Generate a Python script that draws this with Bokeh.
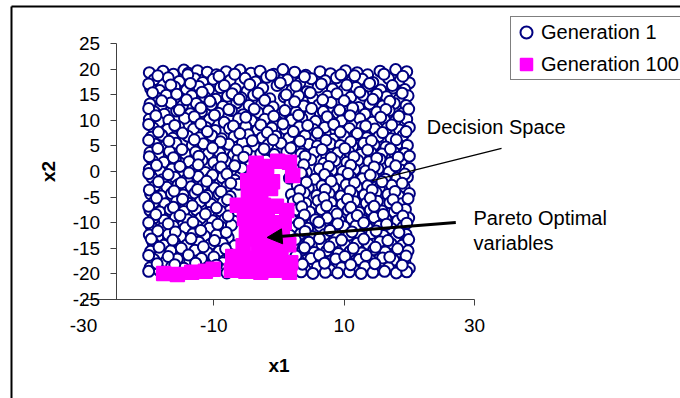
from bokeh.plotting import figure
from bokeh.models import (Range1d, FixedTicker, Legend, LegendItem, Label, Arrow,
                          NormalHead, LinearAxis, PrintfTickFormatter)
from bokeh.embed import file_html
from bokeh.resources import INLINE

# Generation 1: initial population spread over the decision space
gen1_x = [
    -19.9, -17.8, -16.2, -14.6, -13.9, -12.5, -11.0, -9.6, -8.1, -6.0, -4.3, -2.9, -0.8, 0.6, 2.4, 4.1, 6.3, 7.9, 10.2, 12.0, 13.6, 15.5, 17.9, 19.6,
    -19.2, -17.0, -15.3, -12.9, -11.7, -10.1, -7.5, -5.2, -3.6, -1.9, 1.3, 3.2, 5.0, 7.1, 8.8, 11.1, 12.8, 14.4, 16.8, 18.6, 20.0,
    -19.7, -18.3, -16.0, -14.2, -12.3, -10.8, -9.0, -6.7, -4.9, -2.5, -0.3, 2.0, 4.3, 6.0, 8.2, 9.9, 11.8, 13.7, 15.6, 17.5, 19.3,
    -18.9, -17.3, -15.1, -13.4, -11.4, -9.7, -7.9, -5.8, -3.9, -1.4, 0.8, 3.0, 5.2, 7.4, 9.3, 11.0, 12.9, 14.8, 16.5, 18.4, 19.8,
    -19.8, -18.1, -16.6, -14.8, -12.7, -10.4, -8.6, -6.5, -4.6, -2.7, -0.9, 1.7, 3.8, 6.1, 8.0, 10.5, 12.2, 13.9, 15.9, 17.7, 19.5,
    -19.1, -17.6, -15.7, -13.6, -11.9, -9.3, -7.3, -5.5, -3.2, -1.6, 0.4, 2.6, 4.7, 6.8, 9.0, 11.4, 13.2, 15.0, 16.9, 18.9,
    -19.9, -18.4, -16.9, -14.5, -12.6, -10.7, -8.4, -6.2, -4.2, -2.2, -0.2, 1.9, 3.5, 5.6, 7.7, 9.6, 12.4, 14.3, 16.2, 17.8, 19.6,
    -19.3, -17.1, -15.4, -13.1, -11.2, -9.8, -7.6, -5.1, -3.3, -1.1, 1.0, 3.1, 5.3, 7.0, 8.7, 10.8, 12.7, 14.7, 16.6, 18.5, 20.0,
    -19.6, -18.0, -16.3, -14.0, -12.2, -10.3, -8.8, -6.9, -4.7, -2.6, -0.5, 1.5, 4.0, 6.4, 8.3, 10.0, 11.7, 13.5, 15.3, 17.2, 19.0,
    -19.0, -17.4, -15.8, -13.3, -11.6, -9.5, -7.7, -5.6, -3.8, -1.7, 0.3, 2.3, 4.6, 5.9, 7.9, 9.4, 11.3, 13.0, 14.6, 16.4, 18.2, 19.7,
    -19.8, -18.5, -16.8, -14.4, -12.8, -10.9, -9.1, -7.0, -5.0, -2.8, -0.7, 1.2, 3.4, 5.4, 7.3, 9.0, 10.7, 12.5, 14.1, 15.8, 17.6, 19.3,
    -19.4, -17.7, -15.9, -13.8, -11.8, -10.0, -8.2, -6.3, -4.4, -2.0, 3.0, 4.9, 6.9, 8.6, 10.4, 12.1, 13.8, 15.5, 17.1, 18.8,
    -19.9, -18.2, -16.4, -14.9, -13.0, -11.3, -9.4, -7.4, -5.7, 2.8, 4.2, 6.2, 8.1, 9.8, 11.6, 13.3, 15.2, 16.9, 18.7, 20.0,
    -19.5, -17.9, -16.0, -14.1, -12.4, -10.6, -8.7, -6.8, 1.6, 3.6, 5.5, 7.5, 9.2, 11.0, 12.8, 14.5, 16.3, 18.1, 19.7,
    -19.0, -17.2, -15.5, -13.5, -11.7, -9.9, -8.0, -6.2, 2.8, 4.5, 6.6, 8.4, 10.3, 12.0, 13.6, 15.4, 17.3, 19.2,
    -19.7, -18.1, -16.5, -14.7, -12.9, -11.0, -9.2, -7.5, 1.9, 3.9, 5.8, 7.7, 9.5, 11.3, 13.1, 14.9, 16.7, 18.4, 20.0,
    -19.2, -17.5, -15.7, -13.9, -12.1, -10.4, -8.6, 2.2, 4.1, 6.0, 8.0, 9.7, 11.6, 13.4, 15.1, 17.0, 18.8,
    -19.8, -18.3, -16.7, -14.6, -12.7, -10.8, -9.0, 2.7, 4.7, 6.5, 8.5, 10.6, 12.3, 14.0, 15.8, 17.7, 19.4,
    -19.3, -17.6, -15.9, -14.0, -12.0, -10.2, -8.3, -6.9, 0.8, 2.0, 3.7, 5.6, 7.4, 9.3, 11.1, 12.9, 14.6, 16.4, 18.2, 19.9,
    -19.6, -18.0, -16.2, -14.4, -12.6, -10.7, -8.8, -7.3, 2.6, 4.4, 6.3, 8.2, 10.0, 11.8, 13.6, 15.4, 17.3, 19.0,
    -19.9, -18.6, -17.0, -15.1, -13.2, -11.4, -9.6, -7.8, 1.7, 3.3, 5.1, 7.0, 8.9, 10.7, 12.5, 14.2, 16.0, 17.9, 19.5,
    -19.3, -17.7, -16.0, -14.1, -12.3, -10.5, -8.7, -6.8, 2.8, 4.6, 6.6, 8.4, 10.2, 12.0, 13.7, 15.5, 17.2, 18.9,
    -19.7, -18.2, -16.6, -14.8, -12.9, -11.0, -9.2, -7.6, 1.9, 3.6, 5.4, 7.3, 9.1, 10.9, 12.7, 14.5, 16.3, 18.0, 19.8,
    -19.2, -17.4, -15.6, -13.7, -11.9, -10.1, -8.6, 3.0, 4.9, 6.8, 8.7, 10.5, 12.3, 14.1, 15.9, 17.6, 19.3,
    -19.8, -18.4, -16.5, -14.6, -12.5, -10.6, -9.0, 2.1, 4.0, 5.9, 7.8, 9.6, 11.4, 13.2, 15.0, 16.8, 18.5, 20.0,
    -20.0, -8.0, 1.2, 3.4, 5.2, 7.1, 9.0, 10.8, 12.6, 14.4, 16.2, 18.0, 19.6,
    -18.6, -14.0, -9.2, -6.8, -1.2, 3.9, 9.5, 11.6, 16.1, 19.0,
    -20.0, -16.6, -13.6, -8.4, -4.5, 0.2, 2.6, 6.5, 10.4, 13.9, 17.4,
    -19.4, -15.7, -11.8, -7.2, -3.2, 1.1, 4.8, 8.9, 12.4, 15.0, 18.9,
    -18.0, -14.2, -10.6, -6.1, -2.2, 2.4, 6.7, 10.0, 14.4, 17.0,
    -20.0, -15.3, -12.0, -7.7, -3.8, 0.9, 5.0, 9.3, 11.3, 16.4, 19.9,
    -18.9, -13.0, -9.9, -5.1, -0.8, 3.0, 7.4, 10.9, 15.6, 18.4,
    -20.0, -16.0, -12.0, -7.0, -2.8, 0.6, 4.4, 8.4, 13.3, 17.3,
    -18.5, -14.8, -11.0, -6.0, -1.8, 2.2, 5.9, 9.4, 12.0, 15.9, 19.5,
    -20.0, -16.9, -13.0, -9.0, -4.1, -0.9, 3.2, 7.2, 11.0, 14.2, 18.0,
    -18.6, -14.9, -10.2, -6.4, -2.3, 1.8, 6.6, 10.1, 13.6, 17.1,
    -19.9, -16.2, -12.3, -8.7, -5.4, 4.0, 8.0, 11.5, 15.0, 18.3, 20.0,
    -18.8, -15.2, -12.4, -8.9, -6.8, 3.8, 7.6, 11.0, 14.6, 17.9,
    -20.0, -17.0, -13.8, -10.2, -8.0, 3.4, 7.0, 10.6, 14.0, 19.3,
    -18.5, -15.0, -11.1, -7.4, 4.2, 8.0, 11.6, 15.8, 18.9,
    -19.9, -16.1, -12.5, -8.9, 3.2, 7.1, 10.9, 14.3, 17.8,
    -18.8, -14.8, -11.4, -7.9, 3.0, 6.9, 10.5, 14.0, 17.5, 19.8,
    -20.0, -16.2, -13.3, -9.6, 3.5, 7.3, 11.0, 14.6, 18.1,
    -18.9, -15.2, -11.3, -7.8, 3.9, 8.9, 12.0, 16.0, 19.0,
    -20.0, -17.0, -13.2, -9.4, 3.1, 6.1, 9.0, 13.0, 16.5, 19.6,
    -18.6, -15.9, -12.0, -8.1, 4.0, 7.8, 11.2, 14.9, 18.4,
    -19.6, -16.3, -13.5, -9.9, 2.5, 6.2, 9.6, 13.0, 16.7, 19.9,
    -18.4, -15.0, -11.6, -8.2, 3.9, 7.7, 11.4, 14.8, 18.2,
    -20.0, -17.0, -13.9, -10.0, 2.6, 6.2, 10.1, 13.4, 17.0, 19.5,
    -18.7, -16.0, -12.8, -9.6, 3.6, 7.0, 11.0, 14.7, 18.9,
]
gen1_y = [
    19.3, 19.6, 19.0, 19.8, 19.2, 19.7, 19.4, 18.9, 19.5, 19.8, 19.2, 19.6, 19.0, 19.9, 19.4, 18.8, 19.5, 19.1, 19.7, 19.3, 18.9, 19.6, 19.9, 19.5,
    17.9, 18.3, 17.6, 18.1, 17.4, 18.0, 17.8, 18.2, 17.5, 18.4, 17.9, 17.3, 18.1, 17.7, 18.3, 17.6, 18.0, 17.4, 18.2, 17.8, 17.3,
    16.2, 15.8, 16.5, 15.9, 16.6, 16.0, 16.4, 16.1, 15.7, 16.3, 16.8, 16.0, 15.6, 16.5, 16.1, 15.8, 16.4, 16.7, 15.9, 16.3, 16.0,
    14.5, 14.9, 14.3, 14.8, 14.6, 14.1, 14.7, 14.4, 14.9, 14.2, 14.6, 14.8, 14.3, 14.7, 14.0, 14.5, 14.9, 14.3, 14.6, 14.1, 14.8,
    13.2, 12.8, 13.4, 12.9, 13.3, 13.0, 12.7, 13.4, 12.9, 13.1, 12.6, 13.3, 12.8, 13.0, 13.5, 12.9, 12.5, 13.2, 12.8, 13.3, 12.9,
    11.6, 11.2, 11.8, 11.3, 11.7, 11.4, 11.9, 11.1, 11.5, 11.8, 11.3, 11.6, 11.0, 11.7, 11.4, 11.8, 11.2, 11.6, 11.9, 11.3,
    10.2, 9.7, 10.0, 10.4, 9.8, 10.1, 9.6, 10.3, 9.9, 10.2, 9.7, 10.0, 10.4, 9.8, 10.2, 9.9, 10.3, 9.6, 10.1, 9.8, 10.2,
    8.5, 8.2, 8.7, 8.3, 8.6, 8.0, 8.4, 8.8, 8.1, 8.5, 8.3, 8.7, 8.2, 8.6, 8.0, 8.4, 8.7, 8.3, 8.5, 8.1, 8.6,
    6.7, 7.1, 6.5, 6.9, 6.6, 7.0, 6.4, 6.8, 7.2, 6.6, 6.9, 6.5, 7.0, 6.7, 6.3, 6.9, 7.1, 6.6, 6.8, 6.4, 7.0,
    5.3, 5.0, 5.5, 5.1, 5.4, 4.9, 5.3, 5.6, 5.0, 5.2, 5.5, 4.8, 5.3, 5.0, 5.4, 5.1, 4.9, 5.5, 5.2, 4.8, 5.4, 5.1,
    3.7, 3.3, 3.9, 3.5, 3.8, 3.4, 3.6, 3.2, 3.9, 3.5, 3.3, 3.8, 3.4, 3.7, 3.1, 3.6, 3.9, 3.3, 3.7, 3.4, 3.8, 3.5,
    2.1, 1.8, 2.3, 1.9, 2.2, 1.7, 2.0, 2.4, 1.8, 2.2, 1.9, 2.3, 1.6, 2.1, 1.8, 2.2, 1.9, 2.4, 1.7, 2.0,
    0.4, 0.0, 0.5, 0.1, 0.3, -0.2, 0.4, 0.1, 0.6, 0.2, -0.1, 0.5, 0.2, 0.0, 0.4, 0.1, 0.5, -0.1, 0.3, 0.6,
    -1.2, -1.6, -1.1, -1.5, -1.0, -1.4, -1.2, -1.7, -1.3, -1.0, -1.5, -1.2, -1.6, -1.1, -1.4, -1.0, -1.5, -1.3, -1.1,
    -2.8, -3.1, -2.6, -3.0, -2.7, -3.2, -2.9, -2.5, -2.7, -3.2, -2.8, -3.1, -2.6, -3.0, -2.8, -3.2, -2.7, -3.0,
    -4.4, -4.8, -4.3, -4.6, -4.2, -4.7, -4.4, -4.9, -4.5, -4.2, -4.7, -4.3, -4.8, -4.4, -4.6, -4.1, -4.5, -4.8, -4.3,
    -6.0, -6.3, -5.8, -6.2, -5.9, -6.4, -6.0, -5.9, -6.2, -5.7, -6.1, -6.4, -5.9, -6.2, -5.8, -6.1, -6.3,
    -7.6, -7.9, -7.4, -7.8, -7.5, -8.0, -7.7, -7.5, -7.9, -7.4, -7.8, -7.6, -8.0, -7.5, -7.7, -7.9, -7.4,
    -9.2, -9.5, -9.0, -9.4, -9.1, -9.6, -9.3, -9.7, -9.2, -9.5, -9.0, -9.4, -9.1, -9.6, -9.2, -9.5, -9.0, -9.3, -9.6, -9.1,
    -10.8, -11.2, -10.7, -11.0, -10.6, -11.1, -10.9, -10.5, -10.8, -11.1, -10.7, -11.2, -10.8, -10.6, -11.0, -10.7, -11.2, -10.9,
    -12.4, -12.8, -12.3, -12.7, -12.2, -12.6, -12.4, -12.9, -12.5, -12.2, -12.7, -12.3, -12.8, -12.4, -12.6, -12.1, -12.5, -12.8, -12.3,
    -14.0, -14.4, -13.9, -14.3, -13.8, -14.2, -14.0, -14.5, -14.1, -13.8, -14.3, -13.9, -14.4, -14.0, -14.2, -13.7, -14.1, -14.4,
    -15.6, -16.0, -15.5, -15.9, -15.4, -15.8, -15.6, -16.1, -15.7, -15.3, -15.8, -15.5, -16.0, -15.6, -15.9, -15.3, -15.7, -16.0, -15.5,
    -17.2, -17.6, -17.1, -17.5, -17.0, -17.4, -17.8, -17.3, -17.0, -17.5, -17.1, -17.6, -17.2, -17.4, -16.9, -17.3, -17.6,
    -18.8, -19.3, -18.6, -18.9, -18.7, -18.5, -19.0, -18.7, -19.1, -18.6, -19.2, -18.8, -19.0, -18.6, -19.1, -18.8, -19.3, -18.9,
    -19.5, -19.8, -19.9, -19.6, -19.9, -19.7, -19.8, -19.6, -19.9, -19.7, -19.5, -19.8, -19.6,
    18.7, 18.9, 18.6, 19.0, 18.8, 18.5, 18.9, 18.7, 19.0, 18.6,
    17.1, 16.9, 17.2, 16.8, 17.0, 17.3, 16.7, 17.1, 16.9, 17.2, 16.8,
    15.4, 15.1, 15.5, 15.2, 15.3, 15.0, 15.4, 15.2, 15.5, 15.1, 15.3,
    13.8, 14.0, 13.7, 14.1, 13.9, 13.6, 14.0, 13.8, 14.1, 13.7,
    12.3, 12.0, 12.4, 12.1, 12.2, 11.9, 12.3, 12.0, 12.4, 12.1, 12.2,
    10.9, 10.7, 11.0, 10.6, 10.8, 11.0, 10.7, 10.9, 10.6, 10.8,
    9.2, 9.0, 9.3, 8.9, 9.1, 9.3, 9.0, 9.2, 8.9, 9.1,
    7.7, 7.5, 7.8, 7.4, 7.6, 7.8, 7.5, 7.7, 7.4, 7.6, 7.8,
    6.1, 5.9, 6.2, 5.8, 6.0, 6.2, 5.9, 6.1, 5.8, 6.0, 6.2,
    4.5, 4.3, 4.6, 4.2, 4.4, 4.6, 4.3, 4.5, 4.2, 4.4,
    2.9, 2.7, 3.0, 2.6, 2.8, 3.0, 2.7, 2.9, 2.6, 2.8, 3.0,
    1.2, 1.0, 1.3, 0.9, 1.1, 1.3, 1.0, 1.2, 0.9, 1.1,
    -0.4, -0.6, -0.3, -0.7, -0.5, -0.3, -0.6, -0.4, -0.7, -0.5,
    -2.0, -2.2, -1.9, -2.3, -2.1, -1.9, -2.2, -2.0, -2.3,
    -3.6, -3.8, -3.5, -3.9, -3.7, -3.5, -3.8, -3.6, -3.9,
    -5.2, -5.4, -5.1, -5.5, -5.3, -5.1, -5.4, -5.2, -5.5, -5.3,
    -6.8, -7.0, -6.7, -7.1, -6.9, -6.7, -7.0, -6.8, -7.1,
    -8.4, -8.6, -8.3, -8.7, -8.5, -8.3, -8.6, -8.4, -8.7,
    -10.0, -10.2, -9.9, -10.3, -10.1, -9.9, -10.2, -10.0, -10.3, -10.1,
    -11.6, -11.8, -11.5, -11.9, -11.7, -11.5, -11.8, -11.6, -11.9,
    -13.2, -13.4, -13.1, -13.5, -13.3, -13.1, -13.4, -13.2, -13.5, -13.3,
    -14.8, -15.0, -14.7, -15.1, -14.9, -14.7, -15.0, -14.8, -15.1,
    -16.4, -16.6, -16.3, -16.7, -16.5, -16.3, -16.6, -16.4, -16.7, -16.5,
    -18.0, -18.2, -17.9, -18.3, -18.1, -17.9, -18.2, -18.0, -18.3,
]

# Generation 100: converged Pareto optimal variables
gen100_x = [1.6, -0.2, 2.1, -1.9, -3.8, -2.5, -4.8, -1.3, -4.7, -2.8, -3.5, -3.6,
            -2.3, -1.0,
            -6.4, -4.4, -2.4, -0.4, 1.2, -5.3, -3.2, -1.0, 0.8, -4.0, -1.8,
            -5.0, -2.8, -0.5, 1.5, -5.5, -3.2, -7.1, -4.8, -2.5, -0.4, 1.8,
            -4.0, -1.6, 0.5, -1.5, 0.3, -6.3, -3.6, 0.5,
            -7.3, -5.1, -2.8, -0.7, 1.6,
            -17.7, -15.6, -13.4, -11.3, -10.1]
gen100_y = [1.8, 2.0, -0.8, 1.0, -0.2, -1.8, -1.8, -3.3, -4.1, -4.5, 1.6, -2.7,
            -1.0, -2.0,
            -6.6, -6.6, -6.6, -6.8, -7.6, -9.2, -9.6, -10.0, -10.0, -8.0, -8.3,
            -11.9, -12.3, -13.5, -14.3, -14.5, -15.0, -16.6, -17.0, -17.0, -16.4, -17.8,
            -13.2, -11.3, -12.0, -15.2, -15.5, -18.0, -18.5, -18.5,
            -19.3, -19.5, -19.7, -19.3, -19.7,
            -19.9, -20.1, -19.7, -19.5, -19.1]

x_ticks = [-30, -10, 10, 30]
y_ticks = [-25, -20, -15, -10, -5, 0, 5, 10, 15, 20, 25]

FONT = "Liberation Sans"
NAVY = "#000080"
MAGENTA = "#FF00FF"
AXIS_GRAY = "#404040"

# The frame spans the whole canvas so that axes, callouts and legend
# can sit anywhere on the page; the axes are pinned at x1 = -25, x2 = -25.
p = figure(width=680, height=398, min_border=0,
           x_range=Range1d(-42.737, 61.61), y_range=Range1d(-44.336, 33.398),
           x_axis_location=None, y_axis_location=None,
           output_backend="svg", toolbar_location=None,
           background_fill_color="white", border_fill_color="white")
p.outline_line_color = None
p.xgrid.visible = False
p.ygrid.visible = False

r1 = p.scatter(gen1_x, gen1_y, marker="circle", size=11,
               fill_color="white", line_color=NAVY, line_width=2)
r2 = p.scatter(gen100_x, gen100_y, marker="square", size=14,
               fill_color=MAGENTA, line_color=MAGENTA, line_width=1.5)

xa = LinearAxis(ticker=FixedTicker(ticks=x_ticks), axis_label="x1",
                fixed_location=-25, bounds=(-30, 30),
                formatter=PrintfTickFormatter(format="%d"))
ya = LinearAxis(ticker=FixedTicker(ticks=y_ticks), axis_label="x2",
                fixed_location=-25, bounds=(-25, 25),
                formatter=PrintfTickFormatter(format="%d"))
for ax in (xa, ya):
    ax.axis_line_color = AXIS_GRAY
    ax.axis_line_width = 1
    ax.major_tick_line_color = AXIS_GRAY
    ax.major_tick_out = 6
    ax.major_tick_in = 0
    ax.minor_tick_out = 0
    ax.minor_tick_in = 0
    ax.major_label_text_font = FONT
    ax.major_label_text_font_size = "19px"
    ax.major_label_text_color = "black"
    ax.axis_label_text_font = FONT
    ax.axis_label_text_font_size = "19px"
    ax.axis_label_text_font_style = "bold"
    ax.axis_label_text_color = "black"
xa.major_label_standoff = 14
xa.axis_label_standoff = 19
ya.major_label_standoff = 10
ya.axis_label_standoff = 11
p.add_layout(xa, "below")
p.add_layout(ya, "left")

legend = Legend(items=[LegendItem(label="Generation 1", renderers=[r1]),
                       LegendItem(label="Generation 100", renderers=[r2])],
                location=(510, 318), padding=0, spacing=2,
                glyph_width=30, glyph_height=30, label_standoff=-3,
                label_width=150,
                label_text_font=FONT, label_text_font_size="20px",
                label_text_color="black", border_line_color="black",
                border_line_width=1, background_fill_color="white",
                background_fill_alpha=1)
p.add_layout(legend)

# Callout texts and pointers
for txt, lx, ly in [("Decision Space", 22.67, 8.73),
                    ("Pareto Optimal", 29.85, -9.1),
                    ("variables", 29.85, -14.0)]:
    p.add_layout(Label(x=lx, y=ly, text=txt, text_font=FONT,
                       text_font_size="20px", text_color="black",
                       text_baseline="alphabetic", text_align="left"))

p.add_layout(Arrow(end=None, x_start=34.15, y_start=4.5, x_end=14.33, y_end=-1.8,
                   line_color="black", line_width=1.3))
p.add_layout(Arrow(end=NormalHead(size=15, fill_color="black", line_color="black"),
                   x_start=27.13, y_start=-9.96, x_end=-1.83, y_end=-12.89,
                   line_color="black", line_width=3))

# Chart area border, running off the right and bottom of the page
for xs, ys, xe, ye in [(-41.05, 32.23, 100.0, 32.23),
                       (-41.05, 32.23, -41.05, -100.0)]:
    p.add_layout(Arrow(end=None, x_start=xs, y_start=ys, x_end=xe, y_end=ye,
                       line_color="black", line_width=2))

open("out.html", "w").write(file_html(p, INLINE))
